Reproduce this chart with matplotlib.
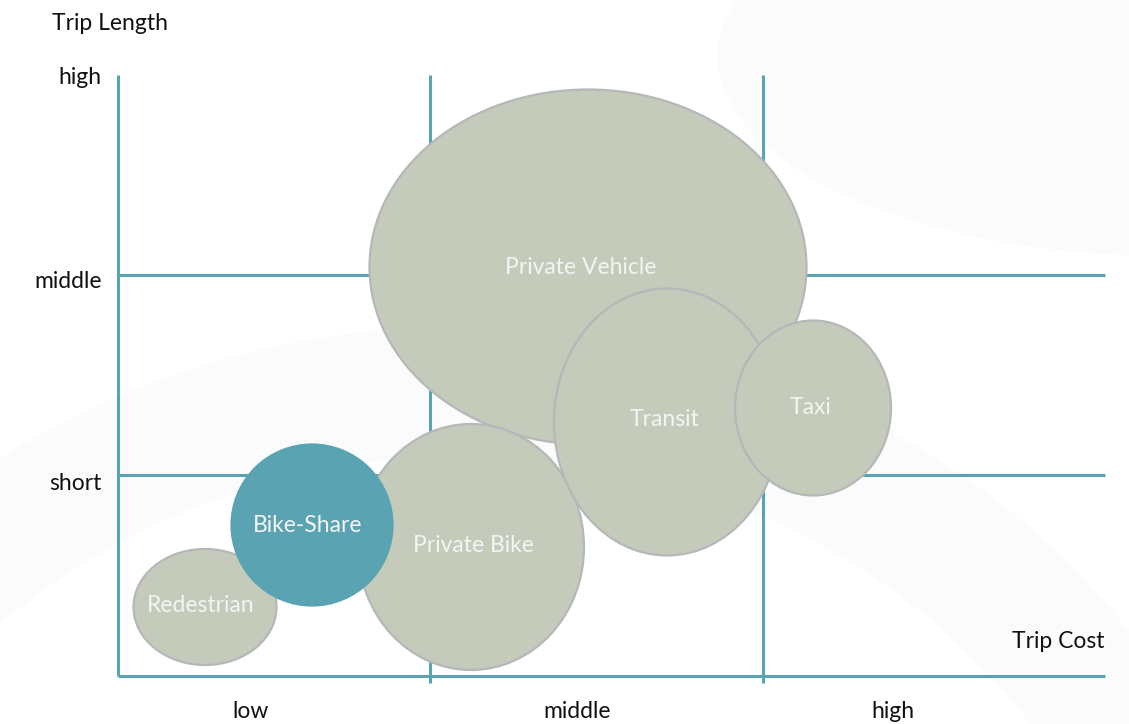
import matplotlib
matplotlib.use("Agg")
import matplotlib.pyplot as plt
from matplotlib.patches import Ellipse

# ---- data (units: 1 unit = 100 px, origin at axes corner) ----
modes = ["Private Vehicle", "Private Bike", "Transit", "Taxi", "Redestrian", "Bike-Share"]
cost_center = [4.70, 3.53, 5.49, 6.95, 0.87, 1.94]
length_center = [4.09, 1.29, 2.54, 2.68, 0.69, 1.51]
bubble_width = [4.37, 2.26, 2.26, 1.56, 1.43, 1.61]
bubble_height = [3.55, 2.46, 2.67, 1.75, 1.16, 1.61]
label_x = [4.63, 3.55, 5.47, 6.93, 0.83, 1.90]
label_y = [4.08, 1.30, 2.56, 2.69, 0.70, 1.50]
highlight = "Bike-Share"

x_grid = [0.0, 3.12, 6.45]
x_end = 9.87
y_grid = [0.0, 2.01, 4.01]
y_top = 6.01
x_tick_pos = [1.33, 4.59, 7.75]
x_tick_labels = ["low", "middle", "high"]
y_tick_pos = [1.93, 3.95, 5.98]
y_tick_labels = ["short", "middle", "high"]

FONT = "Lato"
FS = 16.5
TEAL = "#5AA3B3"
FILL = "#C5CBBA"
EDGE = "#B5B7B9"

fig = plt.figure(figsize=(11.29, 7.24), dpi=100)
ax = fig.add_axes([0, 0, 1, 1])
ax.set_xlim(-1.18, 10.11)
ax.set_ylim(-0.48, 6.76)
ax.axis("off")

# very faint background watermark shapes
ax.add_patch(Ellipse((10.5, 6.2), 9.0, 4.0, facecolor="#FBFBFB", edgecolor="none", zorder=0))
ax.add_patch(Ellipse((3.5, -3.5), 16.0, 14.0, facecolor="#FBFBFB", edgecolor="none", zorder=0))
ax.add_patch(Ellipse((3.5, -3.8), 13.5, 12.0, facecolor="white", edgecolor="none", zorder=0))

# grid lines
for i, xg in enumerate(x_grid):
    lo = 0.0 if i == 0 else -0.07
    ax.plot([xg, xg], [lo, y_top], color=TEAL, lw=2.2, zorder=1, solid_capstyle="butt")
for yg in y_grid:
    ax.plot([0, x_end], [yg, yg], color=TEAL, lw=2.2, zorder=1, solid_capstyle="butt")

# bubbles
for i, m in enumerate(modes):
    fc = TEAL if m == highlight else FILL
    ec = TEAL if m == highlight else EDGE
    ax.add_patch(Ellipse((cost_center[i], length_center[i]), bubble_width[i], bubble_height[i],
                         facecolor=fc, edgecolor=ec, lw=1.6, zorder=2 + i))
    ax.text(label_x[i], label_y[i], m, ha="center", va="center", color="#F4F4F4",
            fontsize=FS, family=FONT, zorder=2 + i)

# tick labels
for p, t in zip(x_tick_pos, x_tick_labels):
    ax.text(p, -0.35, t, ha="center", va="center", fontsize=FS, family=FONT, color="#111111")
for p, t in zip(y_tick_pos, y_tick_labels):
    ax.text(-0.16, p, t, ha="right", va="center", fontsize=FS, family=FONT, color="#111111")

ax.text(-0.66, 6.52, "Trip Length", ha="left", va="center", fontsize=FS, family=FONT, color="#111111")
ax.text(x_end, 0.35, "Trip Cost", ha="right", va="center", fontsize=FS, family=FONT, color="#111111")

fig.savefig("out.png", dpi=100)
